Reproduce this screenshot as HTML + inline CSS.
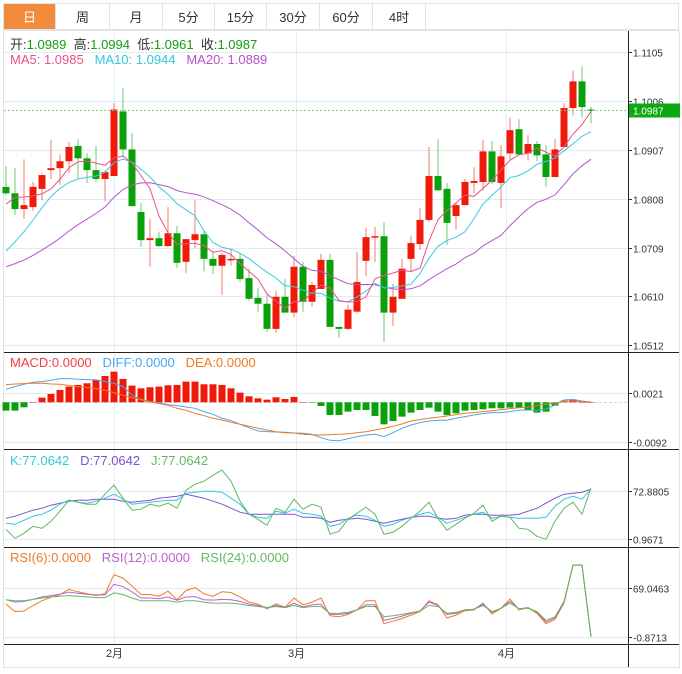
<!DOCTYPE html>
<html><head><meta charset="utf-8">
<style>
body{margin:0;background:#fff;font-family:"Liberation Sans","Noto Sans CJK SC",sans-serif;}
#wrap{position:relative;width:682px;height:674px;overflow:hidden;}
.tabs{position:absolute;left:3px;top:3px;width:676px;height:27px;border:1px solid #dde3e8;box-sizing:border-box;display:flex;}
.tab{height:100%;display:flex;align-items:center;justify-content:center;font-size:13px;color:#333;border-right:1px solid #dde3e8;box-sizing:border-box;}
.tab.on{background:#f28c3c;color:#fff;}
svg{position:absolute;left:0;top:0;}
</style></head><body>
<div id="wrap">
<div class="tabs">
<div class="tab on" style="width:52px">日</div>
<div class="tab" style="width:54px">周</div>
<div class="tab" style="width:53px">月</div>
<div class="tab" style="width:52px">5分</div>
<div class="tab" style="width:52px">15分</div>
<div class="tab" style="width:53px">30分</div>
<div class="tab" style="width:53px">60分</div>
<div class="tab" style="width:53px">4时</div>
</div>
<svg id="chart" width="682" height="674"></svg>
</div>
<script>
const opens=[1.0832,1.0819,1.0787,1.0791,1.0828,1.0866,1.0870,1.0884,1.0915,1.0890,1.0866,1.0848,1.0854,1.0985,1.0908,1.0781,1.0724,1.0728,1.0712,1.0738,1.0680,1.0724,1.0736,1.0686,1.0672,1.0684,1.0686,1.0647,1.0607,1.0595,1.0544,1.0609,1.0577,1.0670,1.0599,1.0625,1.0684,1.0548,1.0544,1.0579,1.0682,1.0730,1.0732,1.0577,1.0605,1.0686,1.0716,1.0765,1.0854,1.0828,1.0773,1.0795,1.0840,1.0842,1.0904,1.0840,1.0900,1.0949,1.0900,1.0919,1.0898,1.0852,1.0913,1.0992,1.1046,1.0989];
const closes=[1.0819,1.0787,1.0795,1.0832,1.0856,1.0870,1.0884,1.0913,1.0890,1.0866,1.0848,1.0862,1.0989,1.0908,1.0793,1.0724,1.0728,1.0712,1.0738,1.0678,1.0726,1.0736,1.0686,1.0672,1.0694,1.0686,1.0645,1.0605,1.0595,1.0544,1.0609,1.0577,1.0670,1.0599,1.0633,1.0684,1.0548,1.0544,1.0583,1.0639,1.0730,1.0732,1.0577,1.0609,1.0666,1.0718,1.0765,1.0854,1.0825,1.0759,1.0795,1.0842,1.0844,1.0904,1.0842,1.0894,1.0947,1.0898,1.0919,1.0896,1.0852,1.0908,1.0992,1.1046,1.0994,1.0987];
const highs=[1.0874,1.0870,1.0888,1.0842,1.0860,1.0927,1.0898,1.0923,1.0929,1.0900,1.0915,1.0866,1.1002,1.1032,1.0941,1.0799,1.0767,1.0740,1.0791,1.0753,1.0726,1.0805,1.0742,1.0702,1.0698,1.0706,1.0698,1.0666,1.0627,1.0613,1.0621,1.0645,1.0692,1.0680,1.0639,1.0696,1.0696,1.0548,1.0593,1.0700,1.0749,1.0751,1.0761,1.0635,1.0686,1.0732,1.0789,1.0913,1.0929,1.0840,1.0799,1.0848,1.0872,1.0927,1.0925,1.0917,1.0973,1.0969,1.0937,1.0925,1.0917,1.0929,1.1002,1.1068,1.1076,1.0994];
const lows=[1.0815,1.0775,1.0767,1.0783,1.0805,1.0848,1.0836,1.0860,1.0850,1.0840,1.0842,1.0803,1.0854,1.0892,1.0793,1.0710,1.0670,1.0710,1.0710,1.0668,1.0657,1.0708,1.0661,1.0655,1.0613,1.0672,1.0639,1.0601,1.0579,1.0538,1.0536,1.0577,1.0568,1.0579,1.0589,1.0625,1.0548,1.0526,1.0542,1.0577,1.0651,1.0680,1.0518,1.0550,1.0605,1.0659,1.0704,1.0761,1.0825,1.0714,1.0745,1.0795,1.0819,1.0825,1.0838,1.0789,1.0888,1.0898,1.0886,1.0884,1.0832,1.0852,1.0913,1.0977,1.0973,1.0961];
const prevCloses=[1.0660,1.0650,1.0645,1.0640,1.0635,1.0630,1.0628,1.0632,1.0640,1.0620,1.0600,1.0590,1.0595,1.0610,1.0640,1.0720,1.0790,1.0820,1.0836];
const priceTicks=[1.1105,1.1006,1.0907,1.0808,1.0709,1.0610,1.0512];
const lastPrice=1.0987;
const macdHist=[-19.5,-19.5,-11.7,0,10.9,19.5,28.8,36.6,40.5,44.4,52.2,61.5,71.6,54.5,39.0,32.7,35.1,36.6,39.7,40.5,48.3,48.3,42.1,42.1,40.5,32.7,22.6,14.0,9.3,6.2,11.7,7.8,12.5,0,-0.8,-8.6,-29.6,-29.6,-21.8,-17.9,-17.9,-31.9,-51.4,-43.6,-33.5,-24.1,-17.9,-12.5,-21.8,-29.6,-25.7,-19.5,-17.9,-16.4,-14.0,-14.0,-12.5,-12.5,-17.9,-24.1,-21.8,-7.8,3.9,7.0,0,0];
const diffVals=[30.4,36.6,42.1,46.7,48.3,51.4,55.3,55.3,53.8,53.0,52.2,48.3,44.4,36.6,17.1,5.5,1.6,-0.8,-5.5,-7.8,-10.9,-14.0,-21.8,-28.0,-37.4,-42.8,-51.4,-59.2,-67.0,-68.5,-69.3,-70.1,-71.7,-72.4,-74.8,-82.6,-88.8,-89.6,-84.9,-80.2,-76.3,-74.8,-80.2,-70.9,-60.8,-53.0,-47.5,-43.6,-42.1,-42.1,-37.4,-33.5,-29.6,-26.5,-24.1,-24.1,-21.8,-18.7,-17.9,-18.7,-15.6,-6.2,5.5,6.2,3.1,0];
const deaVals=[41.3,42.8,43.6,44.4,44.4,42.8,42.1,39.0,36.6,34.3,31.9,28.0,22.6,16.4,10.9,7.0,1.6,-3.1,-7.0,-14.0,-18.7,-25.7,-31.2,-37.4,-41.3,-46.7,-51.4,-56.1,-60.8,-64.7,-68.6,-70.9,-71.7,-74.8,-75.6,-76.3,-75.6,-74.8,-73.2,-70.9,-68.6,-64.7,-60.8,-56.1,-50.6,-43.6,-40.5,-37.4,-35.1,-31.9,-28.8,-25.7,-24.1,-21.8,-19.5,-17.1,-14.8,-12.5,-10.9,-7.8,-4.7,-1.6,1.6,3.1,1.6,0.8];
const macdTicks=[0.0021,-0.0092];
const kVals=[25,23.5,29.5,35.5,38.5,44.5,53.5,59.5,56.5,55,58,62.5,68.5,61,53.5,55,56.5,58,59.5,59.5,70,71.5,73,73,71.5,62.5,53.5,38.5,34,32.5,43,40,46,40,38.5,35.5,20.5,23.5,32.5,37,35.5,29.5,20.5,23.5,29.5,34,38.5,41.5,34,25,29.5,34,38.5,41.5,32.5,35.5,34,32.5,32.5,32.5,34,50.5,61,65.5,61,76];
const dVals=[32.5,35.5,40,44.5,47.5,52,55,58,59.5,59.5,61,61,61,58,56.5,58,59.5,62.5,64,65.5,68.5,65.5,62.5,58,53.5,47.5,41.5,38.5,38.5,38.5,38.5,38.5,38.5,34,34,32.5,26.5,29.5,31,32.5,31,28,25,28,31,34,35.5,35.5,32.5,31,32.5,37,38.5,38.5,37,37,37,38.5,43,47.5,55,62.5,68.5,70,71.5,76];
const jVals=[16,2.5,10,20.5,17.5,28,43,59.5,56.5,53.5,53.5,68.5,82,62.5,44.5,46,53.5,50.5,55,47.5,74.5,83.5,88,97,104.5,88,58,38.5,31,22,47.5,41.5,61,46,53.5,49,8.5,13,31,40,49,38.5,8.5,11.5,20.5,32.5,43,56.5,32.5,14.5,23.5,32.5,40,52,28,35.5,34,17.5,16,5.5,1,28,47.5,56.5,38.5,77.5];
const kdjTicks=[72.8805,0.9671];
const rsi6=[45.6,34.9,35.8,43.6,50.5,55.4,59.3,66.6,63.2,60.3,57.8,60.3,87.6,82.7,71.5,59.3,59.3,56.8,64.2,51.9,65.1,69.1,60.3,56.8,63.2,62.2,55.9,48.5,45.6,38.8,46.1,41.2,54.4,44.6,48.5,54.4,29.0,27.5,30.9,37.3,50.5,50.5,17.7,21.2,25.1,29.9,34.9,50.5,44.6,26.0,29.9,36.3,37.3,47.1,31.4,39.7,52.9,37.3,40.7,32.4,17.7,24.1,47.1,101.3,101.3,-0.8];
const rsi12=[51.9,48.5,49.5,52.4,55.9,57.8,59.8,62.7,61.2,59.8,58.8,58.8,73.9,70.5,63.2,54.4,54.4,53.4,55.9,51.0,55.9,56.3,51.9,51.4,52.4,51.9,49.5,45.6,43.6,40.7,43.6,41.2,46.6,41.7,44.6,45.6,30.9,30.9,32.4,37.3,44.6,44.6,22.6,25.1,28.5,32.4,35.8,48.5,43.6,30.9,32.4,37.3,38.3,45.6,33.9,39.7,49.5,38.8,40.7,33.9,20.2,26.0,48.5,101.3,101.3,-0.8];
const rsi24=[51.9,50.5,50.5,52.4,54.4,55.9,56.8,57.8,56.8,55.9,54.9,54.9,61.7,59.3,54.4,50.5,50.5,50.5,50.5,48.5,50.5,50.5,48.5,47.1,47.1,47.1,45.6,43.6,42.2,40.7,42.2,40.7,43.6,40.7,42.2,42.2,32.4,32.4,33.9,37.3,42.2,42.2,27.5,29.0,30.9,33.4,35.8,43.6,42.2,32.4,33.9,37.3,38.3,43.6,34.9,39.7,47.1,38.8,39.7,34.9,22.6,27.5,49.5,101.3,101.3,-0.8];
const rsiTicks=[69.0463,-0.8713];
const monthLabels=["2月","3月","4月"];
const monthIdx=[12,32.2,55.5];

const NS="http://www.w3.org/2000/svg";
const svg=document.getElementById('chart');
function mk(tag,attrs,parent){const e=document.createElementNS(NS,tag);for(const k in attrs)e.setAttribute(k,attrs[k]);(parent||svg).appendChild(e);return e;}
const xAt=i=>6+9*i;
const yP=p=>52.3+(1.1105-p)*4930;
const yM=v=>402.3-v*0.4283;
const yMv=v=>402.3-v*4283;
const yK=v=>539.3-(v-0.9671)*0.6675;
const yR=v=>636.7-(v+0.8713)*0.7008;
const AX=628;

let e=mk('rect',{x:3.5,y:30.5,width:676,height:637,fill:'none',stroke:'#dde3e8'});

monthIdx.forEach((mi,k)=>{
 const x=Math.round(xAt(mi))+0.5;
 let g=mk('line',{x1:x,x2:x,y1:31,y2:644,stroke:'#e6edf2'});
 
 let t=mk('text',{x:x,y:657,'font-size':11,fill:'#333','text-anchor':'middle'});t.textContent=monthLabels[k];
 
});
function hgrid(y,label,name){
 let g=mk('line',{x1:4,x2:AX,y1:y,y2:y,stroke:'#e3ebf1'});
 
 mk('line',{x1:AX,x2:AX+4,y1:y,y2:y,stroke:'#333'});
 let t=mk('text',{x:AX+5,y:y+4,'font-size':10,fill:'#333'});t.textContent=label;
 
}
priceTicks.forEach(p=>hgrid(Math.round(yP(p))+0.5,p.toFixed(4),'price'));
macdTicks.forEach(v=>hgrid(Math.round(yMv(v))+0.5,v.toFixed(4),'macd'));
kdjTicks.forEach(v=>hgrid(Math.round(yK(v))+0.5,v.toFixed(4),'kdj'));
rsiTicks.forEach(v=>hgrid(Math.round(yR(v))+0.5,v.toFixed(4),'rsi'));
[352.5,449.5,547.5,644.5].forEach(y=>{let s=mk('line',{x1:4,x2:679,y1:y,y2:y,stroke:'#222'});});
e=mk('line',{x1:AX+0.5,x2:AX+0.5,y1:31,y2:667,stroke:'#222'});

const RED='#f01a0a',GRN='#0aa00a';
for(let i=0;i<opens.length;i++){
 const up=closes[i]>=opens[i];const c=up?RED:GRN;const x=xAt(i);
 let w=mk('line',{x1:x,x2:x,y1:yP(highs[i]),y2:yP(lows[i]),stroke:up?'#f47a70':'#6cc86c','stroke-width':1});
 
 const y1=yP(Math.max(opens[i],closes[i])),y2=yP(Math.min(opens[i],closes[i]));
 let b=mk('rect',{x:x-3.5,y:y1,width:7,height:Math.max(1.5,y2-y1),fill:c});
 
}
const allC=prevCloses.concat(closes);
function ma(n){return closes.map((_,i)=>{const j=i+prevCloses.length;let s=0;for(let k=j-n+1;k<=j;k++)s+=allC[k];return s/n;});}
function poly(vals,fy,color,name,w){
 const pts=vals.map((v,i)=>xAt(i)+','+fy(v).toFixed(1)).join(' ');
 let p=mk('polyline',{points:pts,fill:'none',stroke:color,'stroke-width':w||1});
 return p;
}
poly(ma(20),yP,'#b552cc','ma20-line');
poly(ma(10),yP,'#3cc8e0','ma10-line');
poly(ma(5),yP,'#ee4f86','ma5-line');
const ly=Math.round(yP(lastPrice))+0.5;
e=mk('line',{x1:4,x2:AX,y1:ly,y2:ly,stroke:'#7fd27f','stroke-dasharray':'2,2'});
e=mk('rect',{x:AX+1,y:ly-7,width:51,height:14,fill:'#10a810'});
e=mk('text',{x:AX+5,y:ly+4,'font-size':10,fill:'#fff'});e.textContent=lastPrice.toFixed(4);

e=mk('line',{x1:4,x2:AX,y1:402.5,y2:402.5,stroke:'#bfe0ee','stroke-dasharray':'3,2'});
macdHist.forEach((v,i)=>{
 const y0=yM(0),y1=yM(v);
 let b=mk('rect',{x:xAt(i)-3.5,y:Math.min(y0,y1),width:7,height:Math.max(0.5,Math.abs(y1-y0)),fill:v>=0?RED:GRN});
 
});
poly(diffVals,yM,'#4aa6f0','diff-line');
poly(deaVals,yM,'#f07a22','dea-line');
poly(dVals,yK,'#7d52d2','kdj-d-line');
poly(kVals,yK,'#35c6dc','kdj-k-line');
poly(jVals,yK,'#62b862','kdj-j-line');
poly(rsi6,yR,'#f07a22','rsi6-line');
poly(rsi12,yR,'#b864cc','rsi12-line');
poly(rsi24,yR,'#64b864','rsi24-line');

function legend(x,y,parts,name){
 let t=mk('text',{x:x,y:y,'font-size':13,'xml:space':'preserve'});
 
 t.style.whiteSpace='pre';
 parts.forEach(([s,c])=>{const sp=mk('tspan',{fill:c},t);sp.textContent=s;});
}
legend(10,49,[['开:','#333'],['1.0989','#12a012'],['  高:','#333'],['1.0994','#12a012'],['  低:','#333'],['1.0961','#12a012'],['  收:','#333'],['1.0987','#12a012']],'ohlc-legend');
legend(10,64,[['MA5: 1.0985   ','#ee4f86'],['MA10: 1.0944   ','#35c6dc'],['MA20: 1.0889','#b552cc']],'ma-legend');
legend(10,367,[['MACD:0.0000   ','#f04040'],['DIFF:0.0000   ','#4aa6f0'],['DEA:0.0000','#f07a22']],'macd-legend');
legend(10,465,[['K:77.0642   ','#35c6dc'],['D:77.0642   ','#7d52d2'],['J:77.0642','#62b862']],'kdj-legend');
legend(10,562,[['RSI(6):0.0000   ','#f07a22'],['RSI(12):0.0000   ','#b864cc'],['RSI(24):0.0000','#64b864']],'rsi-legend');
</script>
</body></html>
